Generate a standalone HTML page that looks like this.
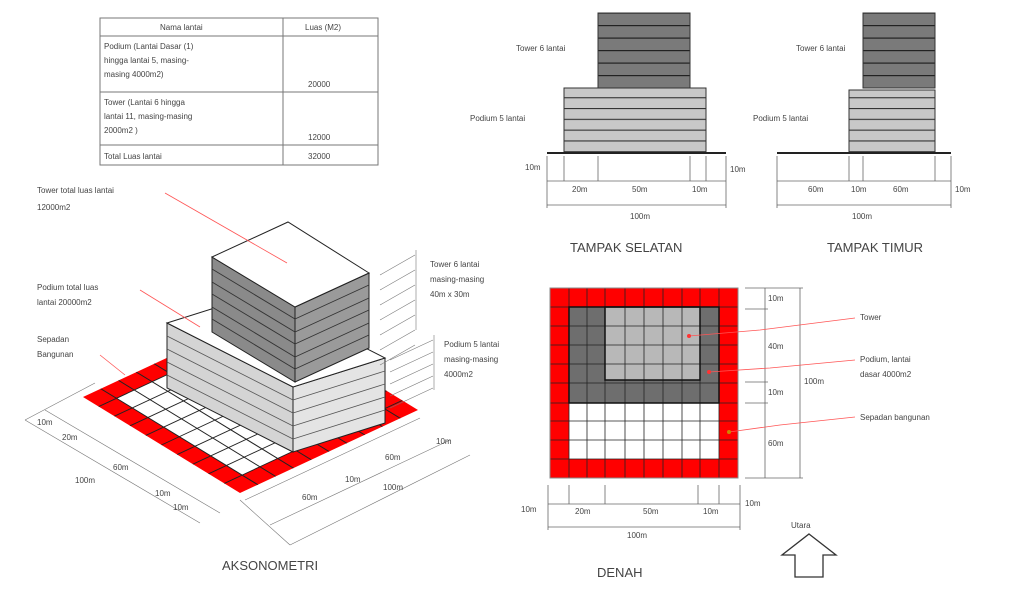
<!DOCTYPE html>
<html><head><meta charset="utf-8"><style>
body{margin:0;background:#fff;}
svg text{font-family:"Liberation Sans",sans-serif;fill:#444;}
</style></head><body>
<svg width="1024" height="594" viewBox="0 0 1024 594" xmlns="http://www.w3.org/2000/svg">
<defs>
<pattern id="pd" width="10" height="10.8" patternUnits="userSpaceOnUse"><rect width="10" height="10.8" fill="#c8c8c8"/><line x1="0" y1="0.5" x2="10" y2="0.5" stroke="#333" stroke-width="1.2"/></pattern>
<pattern id="tw" width="10" height="12.5" patternUnits="userSpaceOnUse"><rect width="10" height="12.5" fill="#7a7a7a"/><line x1="0" y1="0.5" x2="10" y2="0.5" stroke="#222" stroke-width="1.4"/></pattern>
</defs>
<!-- TABLE -->
<g stroke="#777" stroke-width="1" fill="none">
<rect x="100" y="18" width="278" height="147"/>
<line x1="283" y1="18" x2="283" y2="165"/>
<line x1="100" y1="36" x2="378" y2="36"/>
<line x1="100" y1="92" x2="378" y2="92"/>
<line x1="100" y1="145" x2="378" y2="145"/>
</g>
<g font-size="8">
<text x="160" y="30">Nama lantai</text><text x="305" y="30">Luas (M2)</text>
<text x="104" y="49">Podium (Lantai Dasar (1)</text>
<text x="104" y="63">hingga lantai 5, masing-</text>
<text x="104" y="77">masing 4000m2)</text>
<text x="308" y="87">20000</text>
<text x="104" y="105">Tower (Lantai 6 hingga</text>
<text x="104" y="119">lantai 11, masing-masing</text>
<text x="104" y="133">2000m2 )</text>
<text x="308" y="140">12000</text>
<text x="104" y="159">Total Luas lantai</text>
<text x="308" y="159">32000</text>
</g>

<!-- TAMPAK SELATAN -->
<rect x="598" y="13" width="92" height="75" fill="url(#tw)" stroke="#333"/>
<rect x="564" y="88" width="142" height="65" fill="url(#pd)" stroke="#333"/>
<line x1="547" y1="153" x2="726" y2="153" stroke="#222" stroke-width="2"/>
<g stroke="#666" stroke-width="0.8">
<line x1="547" y1="181" x2="726" y2="181"/><line x1="547" y1="205" x2="726" y2="205"/>
<line x1="547" y1="156" x2="547" y2="208"/><line x1="564" y1="156" x2="564" y2="181"/>
<line x1="598" y1="156" x2="598" y2="181"/><line x1="690" y1="156" x2="690" y2="181"/>
<line x1="706" y1="156" x2="706" y2="181"/><line x1="726" y1="156" x2="726" y2="208"/>
</g>
<g font-size="8"><text x="516" y="51">Tower 6 lantai</text><text x="470" y="121">Podium 5 lantai</text>
<text x="525" y="170">10m</text><text x="730" y="172">10m</text>
<text x="572" y="192">20m</text><text x="632" y="192">50m</text><text x="692" y="192">10m</text>
<text x="630" y="219">100m</text></g>
<text x="570" y="252" font-size="13">TAMPAK SELATAN</text>

<!-- TAMPAK TIMUR -->
<rect x="863" y="13" width="72" height="75" fill="url(#tw)" stroke="#333"/>
<rect x="849" y="90" width="86" height="63" fill="url(#pd)" stroke="#333"/>
<line x1="777" y1="153" x2="951" y2="153" stroke="#222" stroke-width="2"/>
<g stroke="#666" stroke-width="0.8">
<line x1="777" y1="181" x2="951" y2="181"/><line x1="777" y1="205" x2="951" y2="205"/>
<line x1="777" y1="156" x2="777" y2="208"/><line x1="849" y1="156" x2="849" y2="181"/>
<line x1="863" y1="156" x2="863" y2="181"/><line x1="935" y1="156" x2="935" y2="181"/>
<line x1="951" y1="156" x2="951" y2="208"/>
</g>
<g font-size="8"><text x="796" y="51">Tower 6 lantai</text><text x="753" y="121">Podium 5 lantai</text>
<text x="808" y="192">60m</text><text x="851" y="192">10m</text><text x="893" y="192">60m</text>
<text x="955" y="192">10m</text><text x="852" y="219">100m</text></g>
<text x="827" y="252" font-size="13">TAMPAK TIMUR</text>

<!-- DENAH -->
<g transform="translate(550,288)">
<rect x="0" y="0" width="188" height="190" fill="#f00"/>
<rect x="19" y="19" width="150" height="96" fill="#6e6e6e"/>
<rect x="55" y="19" width="95" height="73" fill="#b8b8b8"/>
<rect x="19" y="115" width="150" height="56" fill="#fff"/>
<g stroke="#222" stroke-width="0.8">
<line x1="0" y1="19" x2="188" y2="19"/><line x1="0" y1="38" x2="188" y2="38"/><line x1="0" y1="57" x2="188" y2="57"/><line x1="0" y1="76" x2="188" y2="76"/><line x1="0" y1="95" x2="188" y2="95"/><line x1="0" y1="115" x2="188" y2="115"/><line x1="0" y1="133" x2="188" y2="133"/><line x1="0" y1="152" x2="188" y2="152"/><line x1="0" y1="171" x2="188" y2="171"/>
<line x1="19" y1="0" x2="19" y2="190"/><line x1="37" y1="0" x2="37" y2="190"/><line x1="55" y1="0" x2="55" y2="190"/><line x1="75" y1="0" x2="75" y2="190"/><line x1="94" y1="0" x2="94" y2="190"/><line x1="113" y1="0" x2="113" y2="190"/><line x1="132" y1="0" x2="132" y2="190"/><line x1="150" y1="0" x2="150" y2="190"/><line x1="169" y1="0" x2="169" y2="190"/>
</g>
<rect x="19" y="19" width="150" height="96" fill="none" stroke="#111" stroke-width="1.5"/>
<rect x="55" y="19" width="95" height="73" fill="none" stroke="#111" stroke-width="1.5"/>
<rect x="0" y="0" width="188" height="190" fill="none" stroke="#888"/>
</g>
<g stroke="#666" stroke-width="0.8">
<line x1="765" y1="288" x2="765" y2="478"/><line x1="800" y1="288" x2="800" y2="478"/>
<line x1="745" y1="288" x2="803" y2="288"/><line x1="745" y1="309" x2="768" y2="309"/><line x1="745" y1="382" x2="768" y2="382"/><line x1="745" y1="403" x2="768" y2="403"/><line x1="745" y1="478" x2="803" y2="478"/>
<line x1="548" y1="504" x2="740" y2="504"/><line x1="548" y1="527" x2="740" y2="527"/>
<line x1="548" y1="485" x2="548" y2="530"/><line x1="569" y1="485" x2="569" y2="504"/><line x1="605" y1="485" x2="605" y2="504"/><line x1="698" y1="485" x2="698" y2="504"/><line x1="719" y1="485" x2="719" y2="504"/><line x1="740" y1="485" x2="740" y2="530"/>
</g>
<g font-size="8"><text x="768" y="301">10m</text><text x="768" y="349">40m</text><text x="768" y="395">10m</text><text x="768" y="446">60m</text><text x="804" y="384">100m</text>
<text x="521" y="512">10m</text><text x="575" y="514">20m</text><text x="643" y="514">50m</text><text x="703" y="514">10m</text><text x="745" y="506">10m</text><text x="627" y="538">100m</text>
<text x="860" y="320">Tower</text><text x="860" y="362">Podium, lantai</text><text x="860" y="377">dasar 4000m2</text><text x="860" y="420">Sepadan bangunan</text>
<text x="791" y="528">Utara</text></g>
<g stroke="#f55" stroke-width="0.8" fill="none">
<polyline points="689,336 760,330 855,318"/><polyline points="709,372 770,368 855,360"/><polyline points="729,432 780,425 855,417"/>
</g>
<circle cx="689" cy="336" r="2" fill="#f33"/><circle cx="709" cy="372" r="2" fill="#f33"/><circle cx="729" cy="432" r="2" fill="#c80"/>
<polygon points="809,534 836,555 823,555 823,577 795,577 795,555 782,555" fill="#fff" stroke="#333" stroke-width="1.3"/>
<text x="597" y="577" font-size="13">DENAH</text>

<!-- AXONOMETRI -->
<g transform="matrix(15.7,9.6,17.8,-8.3,83,397)">
<rect x="0" y="0" width="10" height="10" fill="#f00"/>
<rect x="1" y="1" width="8" height="8" fill="#fff"/>
<g stroke="#222" stroke-width="0.06">
<line x1="1" y1="0" x2="1" y2="10"/><line x1="2" y1="0" x2="2" y2="10"/><line x1="3" y1="0" x2="3" y2="10"/><line x1="4" y1="0" x2="4" y2="10"/><line x1="5" y1="0" x2="5" y2="10"/><line x1="6" y1="0" x2="6" y2="10"/><line x1="7" y1="0" x2="7" y2="10"/><line x1="8" y1="0" x2="8" y2="10"/><line x1="9" y1="0" x2="9" y2="10"/>
<line y1="1" x1="0" y2="1" x2="10"/><line y1="2" x1="0" y2="2" x2="10"/><line y1="3" x1="0" y2="3" x2="10"/><line y1="4" x1="0" y2="4" x2="10"/><line y1="5" x1="0" y2="5" x2="10"/><line y1="6" x1="0" y2="6" x2="10"/><line y1="7" x1="0" y2="7" x2="10"/><line y1="8" x1="0" y2="8" x2="10"/><line y1="9" x1="0" y2="9" x2="10"/>
</g>
</g>
<!-- podium -->
<polygon points="167,323 293,387 293,452 167,388" fill="#d4d4d4" stroke="#222"/>
<polygon points="293,387 385,358 385,423 293,452" fill="#e4e4e4" stroke="#222"/>
<polygon points="167,323 259,294 385,358 293,387" fill="#fff" stroke="#222"/>
<g stroke="#555" stroke-width="0.8">
<line x1="167" y1="336" x2="293" y2="400"/><line x1="167" y1="349" x2="293" y2="413"/><line x1="167" y1="362" x2="293" y2="426"/><line x1="167" y1="375" x2="293" y2="439"/>
<line x1="293" y1="400" x2="385" y2="371"/><line x1="293" y1="413" x2="385" y2="384"/><line x1="293" y1="426" x2="385" y2="397"/><line x1="293" y1="439" x2="385" y2="410"/>
</g>
<!-- tower -->
<polygon points="212,257 295,307 295,382 212,332" fill="#8a8a8a" stroke="#222"/>
<polygon points="295,307 369,273 369,348 295,382" fill="#9a9a9a" stroke="#222"/>
<polygon points="212,257 288,222 369,273 295,307" fill="#fff" stroke="#222"/>
<g stroke="#333" stroke-width="0.9">
<line x1="212" y1="269" x2="295" y2="319"/><line x1="212" y1="282" x2="295" y2="332"/><line x1="212" y1="294" x2="295" y2="344"/><line x1="212" y1="307" x2="295" y2="357"/><line x1="212" y1="319" x2="295" y2="369"/>
<line x1="295" y1="319" x2="369" y2="285"/><line x1="295" y1="332" x2="369" y2="298"/><line x1="295" y1="344" x2="369" y2="310"/><line x1="295" y1="357" x2="369" y2="323"/><line x1="295" y1="369" x2="369" y2="335"/>
</g>
<!-- axon dims -->
<g stroke="#777" stroke-width="0.6" fill="none">
<line x1="25" y1="420" x2="200" y2="523"/><line x1="45" y1="410" x2="220" y2="513"/>
<line x1="25" y1="420" x2="95" y2="383"/><line x1="240" y1="500" x2="290" y2="545"/>
<line x1="245" y1="500" x2="420" y2="418"/><line x1="290" y1="545" x2="470" y2="455"/>
<line x1="270" y1="525" x2="450" y2="440"/>
<line x1="380" y1="275" x2="415" y2="255"/><line x1="380" y1="290" x2="415" y2="270"/><line x1="380" y1="305" x2="415" y2="285"/><line x1="380" y1="320" x2="415" y2="300"/><line x1="380" y1="335" x2="415" y2="315"/><line x1="380" y1="350" x2="415" y2="330"/><line x1="380" y1="365" x2="415" y2="345"/>
<line x1="416" y1="250" x2="416" y2="330"/>
<line x1="390" y1="360" x2="433" y2="340"/><line x1="390" y1="372" x2="433" y2="352"/><line x1="390" y1="384" x2="433" y2="364"/><line x1="390" y1="396" x2="433" y2="376"/><line x1="390" y1="408" x2="433" y2="388"/>
<line x1="434" y1="335" x2="434" y2="390"/>
</g>
<g font-size="8">
<text x="37" y="193">Tower total luas lantai</text><text x="37" y="210">12000m2</text>
<text x="37" y="290">Podium total luas</text><text x="37" y="305">lantai 20000m2</text>
<text x="37" y="342">Sepadan</text><text x="37" y="357">Bangunan</text>
<text x="430" y="267">Tower 6 lantai</text><text x="430" y="282">masing-masing</text><text x="430" y="297">40m x 30m</text>
<text x="444" y="347">Podium 5 lantai</text><text x="444" y="362">masing-masing</text><text x="444" y="377">4000m2</text>
<text x="37" y="425">10m</text><text x="62" y="440">20m</text><text x="113" y="470">60m</text><text x="75" y="483">100m</text><text x="155" y="496">10m</text><text x="173" y="510">10m</text>
<text x="436" y="444">10m</text><text x="385" y="460">60m</text><text x="345" y="482">10m</text><text x="383" y="490">100m</text><text x="302" y="500">60m</text>
</g>
<g stroke="#f55" stroke-width="0.8">
<line x1="165" y1="193" x2="287" y2="263"/><line x1="140" y1="290" x2="200" y2="327"/><line x1="100" y1="355" x2="125" y2="375"/>
</g>
<text x="222" y="570" font-size="13">AKSONOMETRI</text>
</svg>
</body></html>
